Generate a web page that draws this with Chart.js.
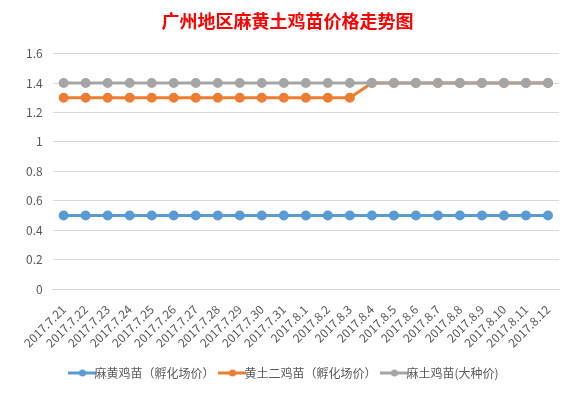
<!DOCTYPE html>
<html>
<head>
<meta charset="utf-8">
<script src="https://cdn.jsdelivr.net/npm/chart.js@4"></script>
<style>
  html, body { margin: 0; padding: 0; background: #fff; }
  #wrap { width: 575px; height: 397px; position: relative; }
</style>
</head>
<body>
<div id="wrap"><canvas id="chartPrice"></canvas></div>
<script>
const dates = ['2017.7.21', '2017.7.22', '2017.7.23', '2017.7.24', '2017.7.25', '2017.7.26', '2017.7.27', '2017.7.28',
  '2017.7.29', '2017.7.30', '2017.7.31', '2017.8.1', '2017.8.2', '2017.8.3', '2017.8.4', '2017.8.5', '2017.8.6',
  '2017.8.7', '2017.8.8', '2017.8.9', '2017.8.10', '2017.8.11', '2017.8.12'];

const maHuang = [0.5, 0.5, 0.5, 0.5, 0.5, 0.5, 0.5, 0.5, 0.5, 0.5, 0.5, 0.5, 0.5, 0.5, 0.5, 0.5, 0.5, 0.5, 0.5, 0.5, 0.5, 0.5, 0.5];
const huangTuEr = [1.3, 1.3, 1.3, 1.3, 1.3, 1.3, 1.3, 1.3, 1.3, 1.3, 1.3, 1.3, 1.3, 1.3, 1.4, 1.4, 1.4, 1.4, 1.4, 1.4, 1.4, 1.4, 1.4];
const maTu = [1.4, 1.4, 1.4, 1.4, 1.4, 1.4, 1.4, 1.4, 1.4, 1.4, 1.4, 1.4, 1.4, 1.4, 1.4, 1.4, 1.4, 1.4, 1.4, 1.4, 1.4, 1.4, 1.4];

const seriesNames = ['麻黄鸡苗（孵化场价）', '黄土二鸡苗（孵化场价）', '麻土鸡苗(大种价)'];
const seriesColors = ['#5B9BD5', '#ED7D31', '#A5A5A5'];

// small line+dot icon for the legend
function legendIcon(color) {
    const c = document.createElement('canvas');
    c.width = 28; c.height = 10;
    const g = c.getContext('2d');
    g.strokeStyle = color;
    g.lineWidth = 3;
    g.beginPath(); g.moveTo(0, 5); g.lineTo(28, 5); g.stroke();
    g.fillStyle = color;
    g.beginPath(); g.arc(14, 5, 3.5, 0, Math.PI * 2); g.fill();
    return c;
}

const font = '"Microsoft YaHei", "Noto Sans CJK SC", sans-serif';

const ctx = document.querySelector('#chartPrice').getContext('2d');
new Chart(ctx, {
    type: 'line',
    data: {
        labels: dates,
        datasets: [maHuang, huangTuEr, maTu].map((d, i) => ({
            label: seriesNames[i],
            data: d,
            borderColor: seriesColors[i],
            backgroundColor: seriesColors[i],
            borderWidth: 3,
            pointRadius: 3.5,
            pointHoverRadius: 3.5,
            tension: 0,
            order: 2 - i   // last series on top, like the original
        }))
    },
    options: {
        responsive: true,
        maintainAspectRatio: false,
        animation: false,
        layout: { padding: { left: 16, right: 16, top: 2, bottom: 8 } },
        plugins: {
            title: {
                display: true,
                text: '广州地区麻黄土鸡苗价格走势图',
                color: '#FF0000',
                font: { family: font, size: 18, weight: 'bold' },
                padding: { top: 8, bottom: 22 }
            },
            legend: {
                position: 'bottom',
                labels: {
                    usePointStyle: true,
                    color: '#595959',
                    font: { family: font, size: 12 },
                    padding: 12,
                    generateLabels: chart => chart.data.datasets.map((ds, i) => ({
                        text: ds.label,
                        pointStyle: legendIcon(seriesColors[i]),
                        fontColor: '#595959',
                        datasetIndex: i,
                        hidden: false,
                        lineWidth: 0
                    }))
                }
            },
            tooltip: { enabled: false }
        },
        scales: {
            x: {
                offset: true,
                grid: { display: false },
                border: { color: '#D9D9D9' },
                ticks: {
                    color: '#595959',
                    font: { family: font, size: 12 },
                    maxRotation: 45,
                    minRotation: 45,
                    autoSkip: false,
                    padding: 5
                }
            },
            y: {
                min: 0,
                max: 1.6,
                grid: { color: '#D9D9D9', drawTicks: false },
                border: { display: false },
                ticks: {
                    stepSize: 0.2,
                    color: '#595959',
                    font: { family: font, size: 12 },
                    padding: 10,
                    callback: v => String(+v.toFixed(1))
                }
            }
        }
    }
});
</script>
</body>
</html>
